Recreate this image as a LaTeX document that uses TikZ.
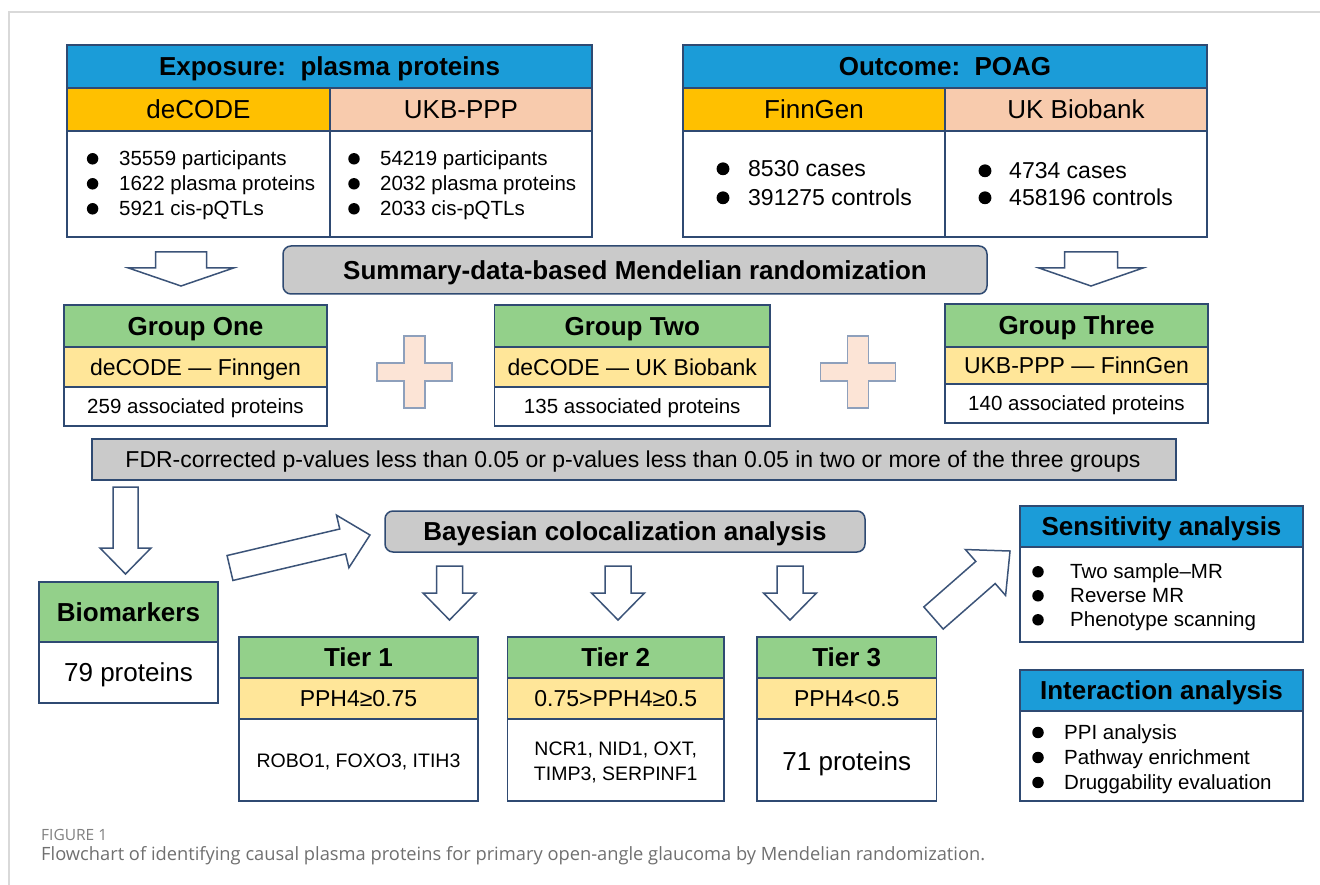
\documentclass[tikz,border=0pt]{standalone}
\usepackage{fontspec}
\setmainfont{Liberation Sans}
\newfontfamily\capfont{Open Sans}
\usetikzlibrary{calc}
\definecolor{navy}{HTML}{2F4A72}
\definecolor{hblue}{HTML}{1B9CD8}
\definecolor{gold}{HTML}{FFC000}
\definecolor{peach}{HTML}{F8CBAD}
\definecolor{hgreen}{HTML}{93D08A}
\definecolor{ylw}{HTML}{FFE699}
\definecolor{gfill}{HTML}{CACACA}
\definecolor{plusfill}{HTML}{FCE4D6}
\definecolor{plusline}{HTML}{8EA0BC}
\definecolor{arrline}{HTML}{3B5378}
\definecolor{framec}{HTML}{D9D9D9}
\definecolor{capgray}{HTML}{707070}
\definecolor{figgray}{HTML}{808080}
\tikzset{
  bord/.style={draw=navy, line width=1.5pt},
  arr/.style={draw=arrline, fill=white, line width=1.5pt, line join=miter},
  plus/.style={draw=plusline, fill=plusfill, line width=1.5pt},
  bul/.style={circle, fill=black, inner sep=0pt},
}
\newcommand\ctxt[5]{\node[anchor=base,inner sep=0pt] (#1) at ({#2},{#3+0.36*#4}) {\fontsize{#4}{#4}\selectfont #5};}
\newcommand\bitem[6]{%
  \node[bul, minimum size={0.56*#5}] (#1b) at ({#2},{#4+0.8}) {};
  \node[anchor=base west,inner sep=0pt] (#1) at ({#3},{#4+0.36*#5}) {\fontsize{#5}{#5}\selectfont #6};}
% x1 x2 y1 y2 y3 y4 headfill
\newcommand\tierbox[7]{%
  \fill[#7] (#1,#3) rectangle (#2,#4);
  \fill[ylw] (#1,#4) rectangle (#2,#5);
  \fill[white] (#1,#5) rectangle (#2,#6);
  \draw[bord] (#1,#4) -- (#2,#4) (#1,#5) -- (#2,#5);
  \draw[bord] (#1,#3) rectangle (#2,#6);}
% x1 x2 y1 y2 y3 headfill
\newcommand\twobox[6]{%
  \fill[#6] (#1,#3) rectangle (#2,#4);
  \fill[white] (#1,#4) rectangle (#2,#5);
  \draw[bord] (#1,#4) -- (#2,#4);
  \draw[bord] (#1,#3) rectangle (#2,#5);}
% cx top base tip shafthalf headhalf
\newcommand\darrow[6]{%
  \draw[arr] ({#1-#5},#2) -- ({#1+#5},#2) -- ({#1+#5},#3) -- ({#1+#6},#3) -- (#1,#4) -- ({#1-#6},#3) -- ({#1-#5},#3) -- cycle;}
% cx cy : plus sign
\newcommand\plussign[2]{%
  \draw[plus] ({#1-10.5},{#2-36}) -- ({#1+10.5},{#2-36}) -- ({#1+10.5},{#2-9}) -- ({#1+37.5},{#2-9}) -- ({#1+37.5},{#2+9}) -- ({#1+10.5},{#2+9}) -- ({#1+10.5},{#2+36}) -- ({#1-10.5},{#2+36}) -- ({#1-10.5},{#2+9}) -- ({#1-37.5},{#2+9}) -- ({#1-37.5},{#2-9}) -- ({#1-10.5},{#2-9}) -- cycle;}

\begin{document}
\begin{tikzpicture}[x=1pt,y=-1pt]
\useasboundingbox (0,0) rectangle (1320,885);
\fill[white] (0,0) rectangle (1320,885);
\draw[framec, line width=2pt] (9,885) -- (9,12) -- (1320,12);

% ---------- Exposure ----------
\fill[hblue] (67,45) rectangle (592,88);
\fill[gold] (67,88) rectangle (330,131);
\fill[peach] (330,88) rectangle (592,131);
\fill[white] (67,131) rectangle (592,237);
\draw[bord] (67,88) -- (592,88) (67,131) -- (592,131) (330,88) -- (330,237);
\draw[bord] (67,45) rectangle (592,237);
\ctxt{exph}{329.5}{66.5}{26}{\bfseries Exposure:\ \ plasma proteins}
\ctxt{dec}{198.5}{109.5}{26}{deCODE}
\ctxt{ukbppp}{461}{109.5}{26}{UKB-PPP}
\bitem{ea}{92.6}{119}{158}{20.5}{35559 participants}
\bitem{eb}{92.6}{119}{183}{20.5}{1622 plasma proteins}
\bitem{ec}{92.6}{119}{208}{20.5}{5921 cis-pQTLs}
\bitem{ed}{354}{380}{158}{20.5}{54219 participants}
\bitem{ee}{354}{380}{183}{20.5}{2032 plasma proteins}
\bitem{ef}{354}{380}{208}{20.5}{2033 cis-pQTLs}

% ---------- Outcome ----------
\fill[hblue] (683,45) rectangle (1207,88);
\fill[gold] (683,88) rectangle (945,131);
\fill[peach] (945,88) rectangle (1207,131);
\fill[white] (683,131) rectangle (1207,237);
\draw[bord] (683,88) -- (1207,88) (683,131) -- (1207,131) (945,88) -- (945,237);
\draw[bord] (683,45) rectangle (1207,237);
\ctxt{outh}{945}{66.5}{26}{\bfseries Outcome:\ \ POAG}
\ctxt{finn}{814}{109.5}{26}{FinnGen}
\ctxt{ukb}{1076}{109.5}{26}{UK Biobank}
\bitem{oa}{723}{748}{168}{23}{8530 cases}
\bitem{ob}{723}{748}{197}{23}{391275 controls}
\bitem{oc}{985}{1009}{170}{23}{4734 cases}
\bitem{od}{985}{1009}{197}{23}{458196 controls}

% ---------- Summary-data MR ----------
\darrow{181}{252}{268}{286}{25.5}{52.5}
\darrow{1091}{252}{268}{286}{26.5}{52}
\draw[bord, fill=gfill, rounded corners=8pt] (283,246) rectangle (987,294);
\ctxt{smr}{635}{270}{26}{\bfseries Summary-data-based Mendelian randomization}

% ---------- Groups ----------
\tierbox{64}{327}{305}{347}{387}{426}{hgreen}
\ctxt{g1h}{195.5}{326}{26}{\bfseries Group One}
\ctxt{g1s}{195.5}{367}{23}{deCODE — Finngen}
\ctxt{g1b}{195.5}{406.5}{20.5}{259 associated proteins}

\plussign{414.5}{372}

\tierbox{494.5}{770}{305}{347}{387}{426}{hgreen}
\ctxt{g2h}{632.25}{326}{26}{\bfseries Group Two}
\ctxt{g2s}{632.25}{367}{23}{deCODE — UK Biobank}
\ctxt{g2b}{632.25}{406.5}{20.5}{135 associated proteins}

\plussign{858}{372}

\tierbox{945}{1208}{304}{347}{384}{423}{hgreen}
\ctxt{g3h}{1076.5}{325.5}{26}{\bfseries Group Three}
\ctxt{g3s}{1076.5}{365.5}{23}{UKB-PPP — FinnGen}
\ctxt{g3b}{1076.5}{403.5}{20.5}{140 associated proteins}

% ---------- FDR ----------
\draw[bord, fill=gfill] (92,439) rectangle (1176,480);
\ctxt{fdr}{633}{459.5}{23}{FDR-corrected p-values less than 0.05 or p-values less than 0.05 in two or more of the three groups}

% ---------- Bayesian ----------
\darrow{125.5}{487}{548}{574}{12.5}{25.5}
\begin{scope}[shift={(230,568)},rotate=13.26]
  \draw[arr] (0,-12.8) -- (115.8,-12.8) -- (115.8,-27) -- (143.8,0) -- (115.8,27) -- (115.8,12.8) -- (0,12.8) -- cycle;
\end{scope}
\draw[bord, fill=gfill, rounded corners=8pt] (385,511) rectangle (865,552);
\ctxt{bay}{625}{531.5}{26}{\bfseries Bayesian colocalization analysis}

\darrow{449.5}{566}{593}{620}{13}{26.5}
\darrow{618}{566}{593}{620}{13}{26.5}
\darrow{790}{566}{593}{620}{13}{26.5}

% ---------- Biomarkers ----------
\twobox{39}{218}{582}{642}{703}{hgreen}
\ctxt{bioh}{128.5}{612}{26}{\bfseries Biomarkers}
\ctxt{biob}{128.5}{672.5}{26}{79 proteins}

% ---------- Tiers ----------
\tierbox{239}{478}{637}{678}{719}{801}{hgreen}
\ctxt{t1h}{358.5}{657.5}{26}{\bfseries Tier 1}
\ctxt{t1s}{358.5}{698.5}{23}{PPH4≥0.75}
\ctxt{t1b}{358.5}{760}{19.5}{ROBO1, FOXO3, ITIH3}

\tierbox{507.5}{724}{637}{678}{719}{801}{hgreen}
\ctxt{t2h}{615.75}{657.5}{26}{\bfseries Tier 2}
\ctxt{t2s}{615.75}{698.5}{23}{0.75>PPH4≥0.5}
\ctxt{t2b}{615.75}{748}{19.5}{NCR1, NID1, OXT,}
\ctxt{t2c}{615.75}{773}{19.5}{TIMP3, SERPINF1}

\tierbox{757}{936.5}{637}{678}{719}{801}{hgreen}
\ctxt{t3h}{846.75}{657.5}{26}{\bfseries Tier 3}
\ctxt{t3s}{846.75}{698.5}{23}{PPH4<0.5}
\ctxt{t3b}{846.75}{761}{26}{71 proteins}

% ---------- Sensitivity ----------
\begin{scope}[shift={(933.5,618)},rotate=41.2]
  \draw[arr] (0,-14.7) -- (69.1,-14.7) -- (69.1,-30.5) -- (101.7,0) -- (69.1,30.5) -- (69.1,14.7) -- (0,14.7) -- cycle;
\end{scope}
\twobox{1020}{1303}{506}{547}{642}{hblue}
\ctxt{senh}{1161.5}{526.5}{26}{\bfseries Sensitivity analysis}
\bitem{sa}{1038}{1070}{571}{20.5}{Two sample–MR}
\bitem{sb}{1038}{1070}{595}{20.5}{Reverse MR}
\bitem{sc}{1038}{1070}{619}{20.5}{Phenotype scanning}

% ---------- Interaction ----------
\twobox{1020}{1303}{670}{711}{801}{hblue}
\ctxt{inth}{1161.5}{690.5}{26}{\bfseries Interaction analysis}
\bitem{ia}{1038}{1064}{731.7}{20.5}{PPI analysis}
\bitem{ib}{1038}{1064}{756.7}{20.5}{Pathway enrichment}
\bitem{ic}{1038}{1064}{781.7}{20.5}{Druggability evaluation}

% ---------- Caption ----------
\node[anchor=base west,inner sep=0pt,text=figgray] (figlab) at (41,{835+0.36*15.5}) {\capfont\fontsize{15.5}{15.5}\selectfont FIGURE 1};
\node[anchor=base west,inner sep=0pt,text=capgray] (figcap) at (41,{853.5+0.36*18.3}) {\capfont\fontsize{18.3}{18.3}\selectfont Flowchart of identifying causal plasma proteins for primary open-angle glaucoma by Mendelian randomization.};
\end{tikzpicture}
\end{document}
